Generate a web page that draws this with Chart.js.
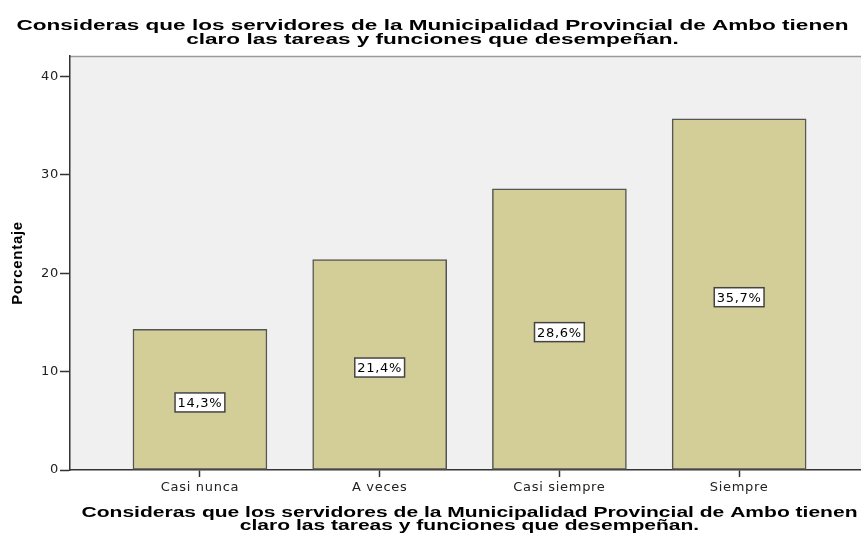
<!DOCTYPE html>
<html><head><meta charset="utf-8">
<script src="https://cdn.jsdelivr.net/npm/chart.js@4/dist/chart.umd.min.js"></script>
<style>html,body{margin:0;padding:0;background:#fff;overflow:hidden}#wrap{width:861px;height:535px;position:relative}</style>
</head><body><div id="wrap"><canvas id="c"></canvas></div>
<script>
const categories = ["Casi nunca", "A veces", "Casi siempre", "Siempre"];
const percentages = [14.3, 21.4, 28.6, 35.7];
const valueLabels = ["14,3%", "21,4%", "28,6%", "35,7%"];
const yTicks = [0, 10, 20, 30, 40];
const titleLines = ["Consideras que los servidores de la Municipalidad Provincial de Ambo tienen", "claro las tareas y funciones que desempeñan."];
const yAxisTitle = "Porcentaje";

const spacingPlugin = {
  id: 'spacing',
  beforeUpdate(chart) { chart.ctx.letterSpacing = '0.7px'; },
  beforeDraw(chart) { chart.ctx.letterSpacing = '0.7px'; }
};

const bgPlugin = {
  id: 'bg',
  beforeDraw(chart) {
    const {ctx, chartArea: a} = chart;
    ctx.save();
    ctx.fillStyle = '#f0f0f0';
    ctx.fillRect(a.left, a.top, a.right - a.left, a.bottom - a.top);
    ctx.strokeStyle = '#9a9a9a';
    ctx.lineWidth = 1.5;
    ctx.beginPath();
    ctx.moveTo(a.left, a.top + 0.5);
    ctx.lineTo(a.right, a.top + 0.5);
    ctx.stroke();
    ctx.restore();
  }
};

const labelPlugin = {
  id: 'valueLabels',
  afterDatasetsDraw(chart) {
    const {ctx} = chart;
    const meta = chart.getDatasetMeta(0);
    ctx.save();
    ctx.letterSpacing = '0.7px';
    ctx.font = '13px "DejaVu Sans"';
    ctx.textAlign = 'center';
    ctx.textBaseline = 'middle';
    meta.data.forEach((bar, i) => {
      const txt = valueLabels[i];
      const w = ctx.measureText(txt).width + 5;
      const h = 19;
      const cx = bar.x;
      const cy = (bar.y + bar.base) / 2 + 3;
      ctx.fillStyle = '#ffffff';
      ctx.fillRect(cx - w / 2, cy - h / 2, w, h);
      ctx.strokeStyle = '#444';
      ctx.lineWidth = 1.5;
      ctx.strokeRect(cx - w / 2, cy - h / 2, w, h);
      ctx.fillStyle = '#000';
      ctx.fillText(txt, cx, cy + 1);
    });
    ctx.restore();
  }
};

function stretchedLines(ctx, lines, cx, baselines, font, targetWidth) {
  ctx.save();
  ctx.letterSpacing = '0px';
  ctx.font = font;
  const sx = targetWidth / ctx.measureText(lines[0]).width;
  lines.forEach((t, i) => {
    ctx.save();
    ctx.translate(cx, baselines[i]);
    ctx.scale(sx, 1);
    ctx.fillText(t, 0, 0);
    ctx.restore();
  });
  ctx.restore();
}

const titlesPlugin = {
  id: 'titles',
  afterDraw(chart) {
    const {ctx} = chart;
    const xs = chart.scales.x;
    ctx.save();
    ctx.fillStyle = '#000';
    ctx.textAlign = 'center';
    ctx.textBaseline = 'alphabetic';
    stretchedLines(ctx, titleLines, chart.width / 2 + 2, [29.5, 43.5], 'bold 15px "Liberation Sans"', 832);
    stretchedLines(ctx, titleLines, (xs.left + xs.right) / 2 + 4, [xs.bottom - 18.5, xs.bottom - 5.5], 'bold 15px "Liberation Sans"', 776);
    ctx.restore();
  }
};

new Chart(document.getElementById('c'), {
  type: 'bar',
  data: {
    datasets: [{
      data: categories.map((c, i) => ({x: i, y: percentages[i]})),
      backgroundColor: '#d3ce98',
      borderColor: '#555',
      borderWidth: 1.5,
      borderSkipped: false,
      barThickness: 134
    }]
  },
  options: {
    responsive: true,
    maintainAspectRatio: false,
    animation: false,
    layout: {padding: {top: 56, left: 0, right: 0, bottom: 0}},
    plugins: {
      legend: {display: false},
      tooltip: {enabled: false},
      title: {display: false}
    },
    scales: {
      x: {
        type: 'linear',
        offset: false,
        min: -0.723,
        max: 3.678,
        afterBuildTicks(scale) { scale.ticks = categories.map((c, i) => ({value: i})); },
        afterFit(scale) { scale.height = 65; },
        ticks: {
          autoSkip: false, maxRotation: 0, minRotation: 0,
          callback: (v) => categories[v],
          color: '#222',
          font: {family: '"DejaVu Sans"', size: 13},
          padding: 3
        },
        grid: {offset: false, drawOnChartArea: false, drawTicks: true, tickLength: 7, color: '#333', tickWidth: 1.5},
        border: {display: true, color: '#333', width: 1.5},
        title: {display: false}
      },
      y: {
        min: 0,
        max: 42.1,
        afterBuildTicks(scale) { scale.ticks = yTicks.map(v => ({value: v})); },
        afterFit(scale) { scale.width = 70; },
        ticks: {
          color: '#222',
          font: {family: '"DejaVu Sans"', size: 13},
          padding: 1
        },
        grid: {drawOnChartArea: false, drawTicks: true, tickLength: 10, color: '#333', tickWidth: 1.5},
        border: {display: true, color: '#333', width: 1.5},
        title: {
          display: true,
          text: yAxisTitle,
          color: '#000',
          font: {family: '"Liberation Sans"', size: 15, weight: 'bold'},
          padding: {top: 9, bottom: 0}
        }
      }
    }
  },
  plugins: [spacingPlugin, bgPlugin, labelPlugin, titlesPlugin]
});
</script>
</body></html>
